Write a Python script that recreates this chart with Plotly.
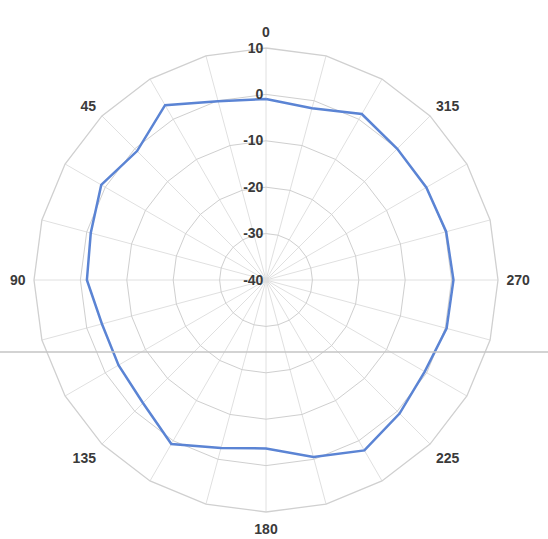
import plotly.graph_objects as go

# Category angles (degrees) and measured values
angles = [str(a) for a in range(0, 360, 15)]
values = [-1.0, -0.1, 3.5, -0.7, 1.0, -0.9, -1.4, -3.4, -3.3, -2.5, 0.8, -2.5,
          -3.7, -0.5, 2.4, 0.7, -0.5, 0.3, 0.4, 0.2, -0.1, 0.0, 1.3, -1.7]
angle_labels = [a if int(a) % 45 == 0 else "" for a in angles]
radial_ticks = [-40, -30, -20, -10, 0, 10]

W, H = 548, 539
cx, cy, R = 266, 280, 232

fig = go.Figure()
fig.add_trace(go.Scatterpolar(
    r=values + values[:1],
    theta=angles + angles[:1],
    mode="lines",
    line=dict(color="#5b84d4", width=2.5),
    hoverinfo="skip",
    showlegend=False,
))

lab_font = dict(family="Liberation Sans", size=14, color="#3a3a3a", weight="bold")

fig.update_layout(
    width=W, height=H,
    margin=dict(l=0, r=0, t=0, b=0),
    paper_bgcolor="white",
    plot_bgcolor="white",
    font=lab_font,
    polar=dict(
        domain=dict(x=[(cx - R) / W, (cx + R) / W],
                    y=[(H - cy - R) / H, (H - cy + R) / H]),
        bgcolor="white",
        gridshape="linear",
        angularaxis=dict(
            type="category",
            categoryarray=angles,
            rotation=90,
            direction="counterclockwise",
            tickmode="array",
            tickvals=angles,
            ticktext=angle_labels,
            showgrid=True,
            gridcolor="#e0e0e0",
            gridwidth=1,
            showline=True,
            linecolor="#d0d0d0",
            linewidth=1.3,
            ticks="outside",
            ticklen=5,
            tickcolor="rgba(0,0,0,0)",
            tickfont=lab_font,
        ),
        radialaxis=dict(
            range=[-40, 10],
            tickmode="array",
            tickvals=radial_ticks,
            ticktext=[str(t) for t in radial_ticks],
            angle=90,
            side="counterclockwise",
            tickangle=90,
            showline=False,
            showgrid=True,
            gridcolor="#cfcfcf",
            gridwidth=1.3,
            ticks="",
            tickfont=lab_font,
        ),
    ),
    shapes=[dict(type="line", xref="paper", yref="paper",
                 x0=0, x1=1, y0=(H - 352) / H, y1=(H - 352) / H,
                 line=dict(color="#c4c4c4", width=1.5), layer="above")],
)

fig.write_html("out.html", config={"displayModeBar": False},
               post_script="document.body.style.margin='0';")
